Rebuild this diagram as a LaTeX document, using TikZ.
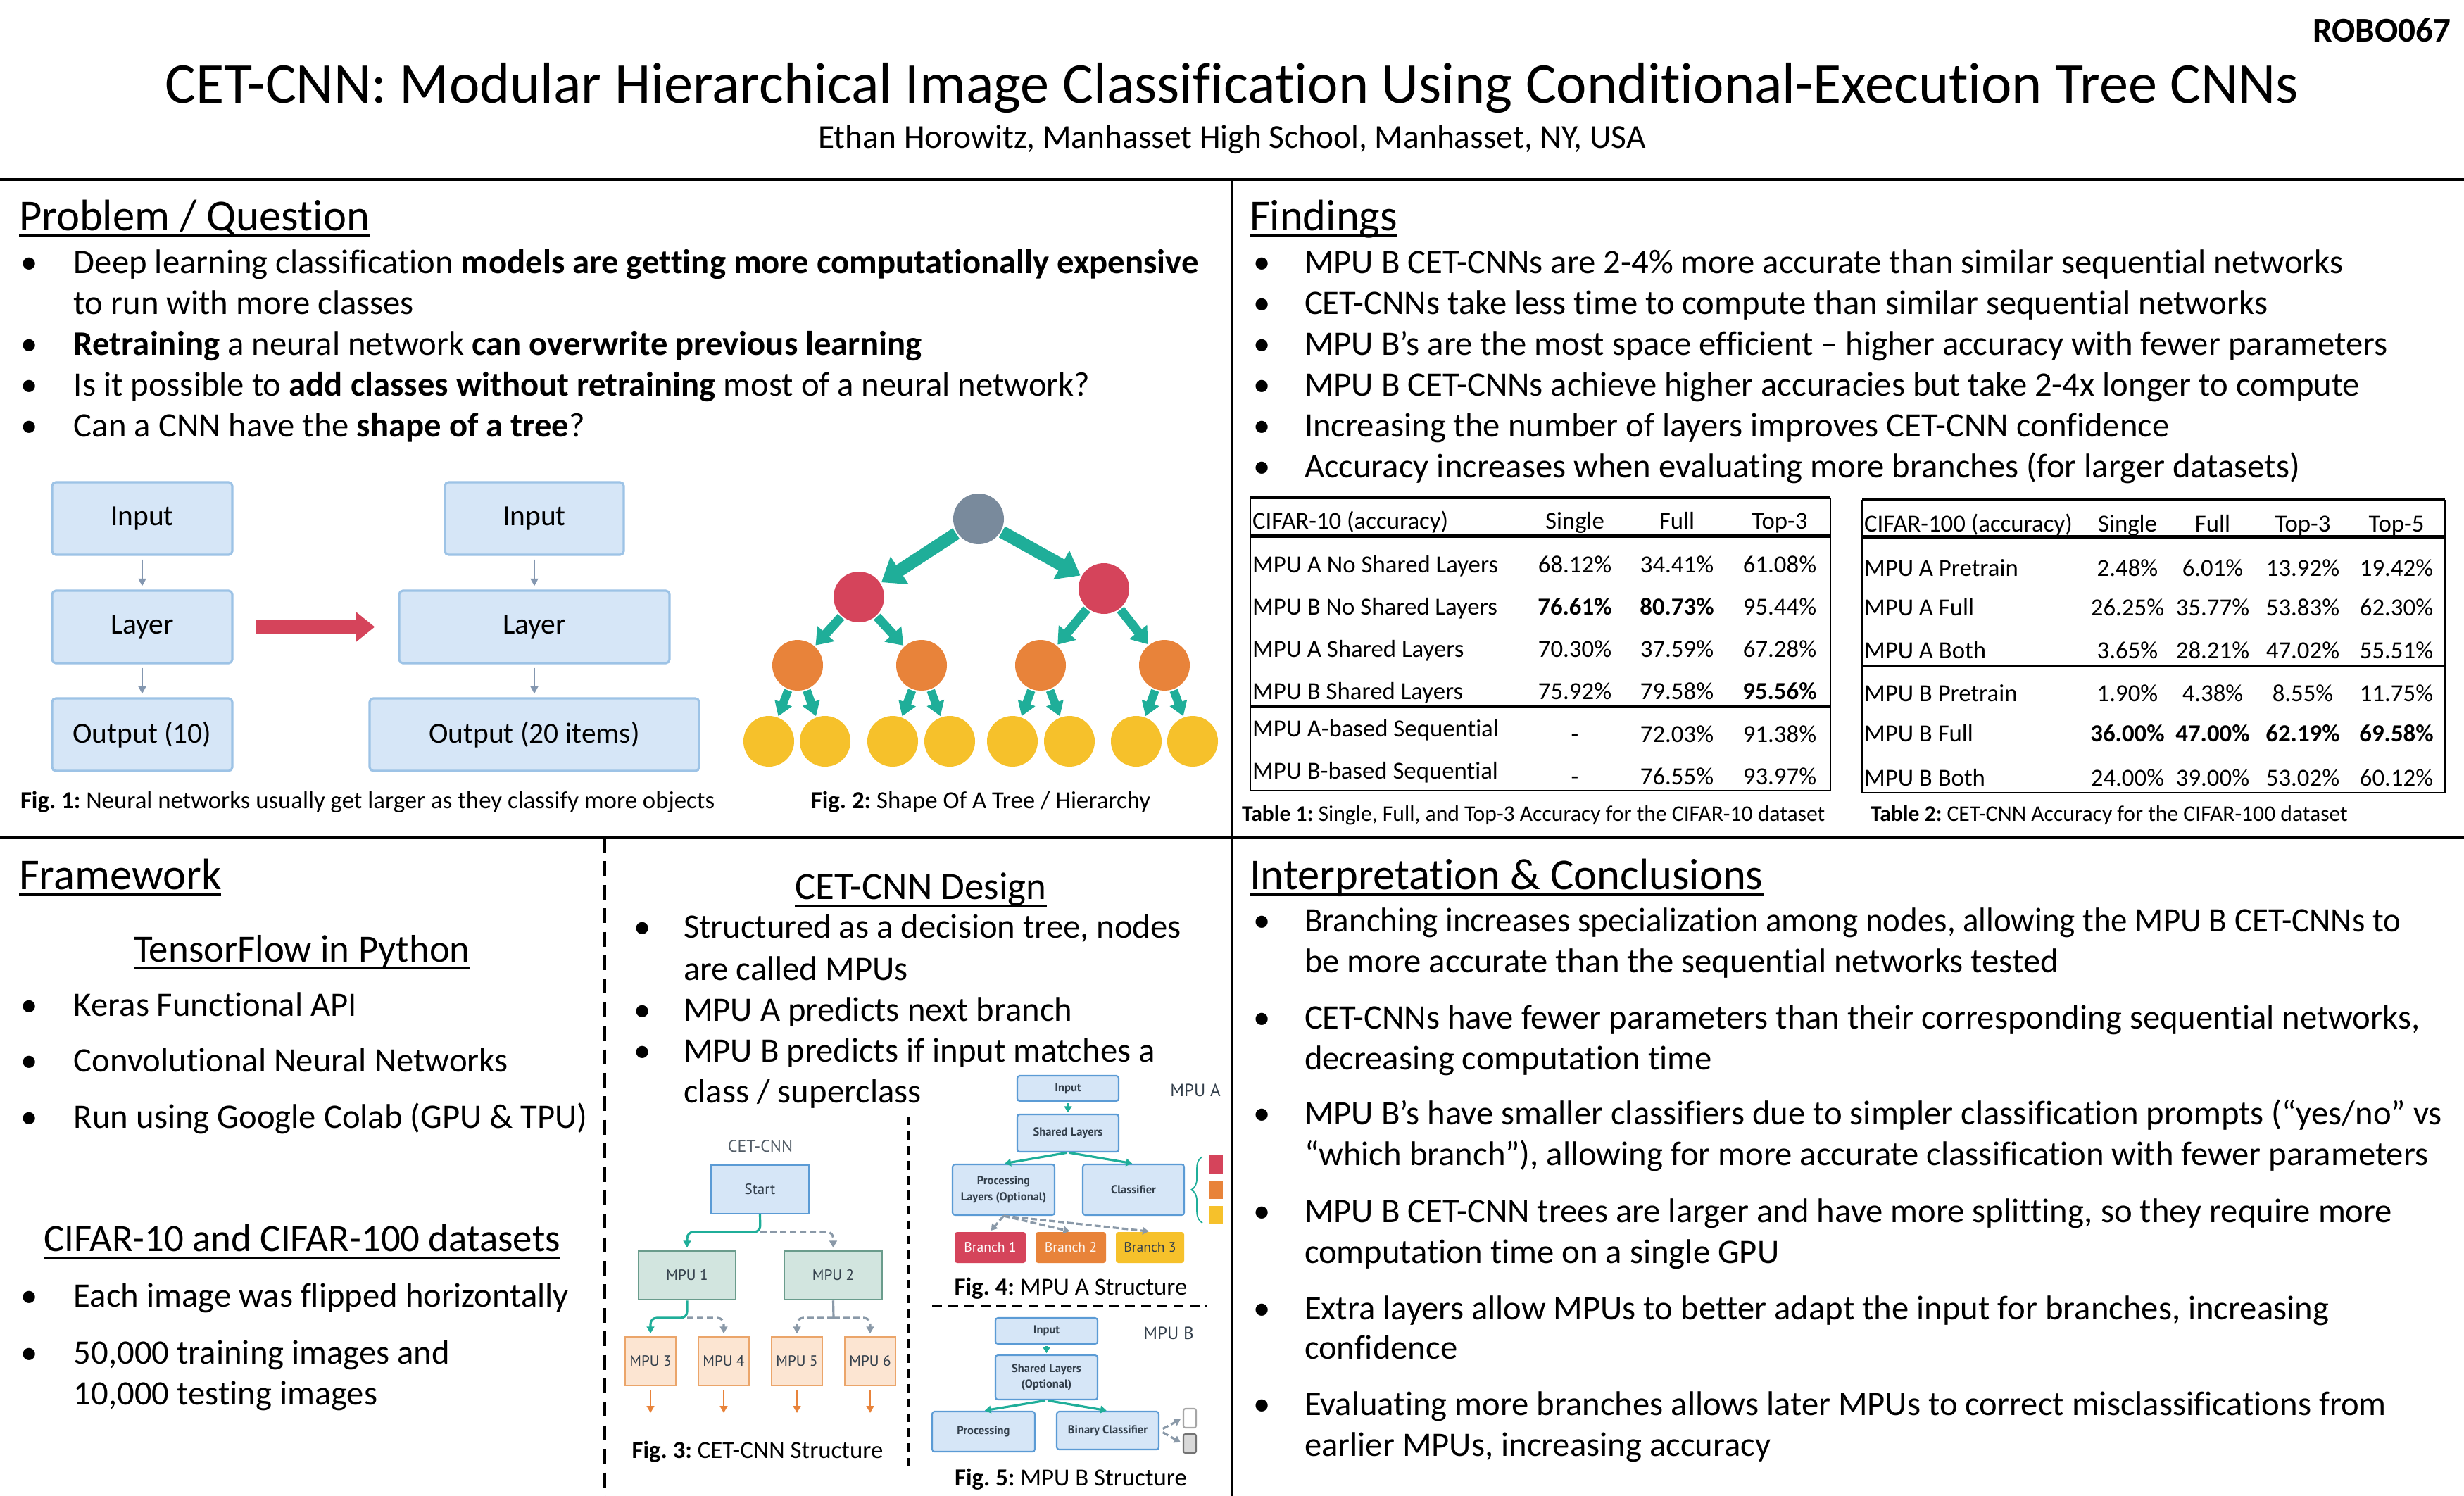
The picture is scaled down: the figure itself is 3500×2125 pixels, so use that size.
\documentclass[tikz,border=0pt]{standalone}
\usepackage{graphicx}
\usepackage{fontspec}
\setmainfont{Carlito}[Ligatures=NoCommon]
\newfontfamily\figfont{PT Sans}
\usetikzlibrary{arrows.meta,fit,decorations.pathreplacing}
\definecolor{boxfill}{HTML}{D6E6F7}
\definecolor{boxline}{HTML}{9DC3E6}
\definecolor{boxline2}{HTML}{5B9BD5}
\definecolor{tealc}{HTML}{1FAE99}
\definecolor{grayarrow}{HTML}{8497B0}
\definecolor{redc}{HTML}{D5445B}
\definecolor{orangec}{HTML}{E8833A}
\definecolor{yellowc}{HTML}{F6C12B}
\definecolor{rootgray}{HTML}{798A9C}
\definecolor{mpugreen}{HTML}{D2E5DF}
\definecolor{mpugreenline}{HTML}{6A9C8C}
\definecolor{mpupeach}{HTML}{FCE5D2}
\definecolor{mpupeachline}{HTML}{EBA56A}
\definecolor{dashgray}{HTML}{8A99A8}
\definecolor{figtext}{HTML}{333F4B}
\newcommand\fsz[2]{\fontsize{#1}{#2}\selectfont}
\frenchspacing
\begin{document}
\begin{tikzpicture}[x=0.1mm,y=-0.1mm,
  body/.style={inner sep=0pt,outer sep=0pt,anchor=base west,font=\fsz{13.85pt}{16.5pt}},
  head/.style={inner sep=0pt,outer sep=0pt,anchor=base west,font=\fsz{17.8pt}{21pt}},
  subh/.style={inner sep=0pt,outer sep=0pt,anchor=base,font=\fsz{15.6pt}{19pt}},
  ul/.style={line width=1.1pt},
  sepline/.style={line width=1.1pt},
  wh/.style 2 args={minimum width={#1*0.1mm},minimum height={#2*0.1mm}},
  tlab/.style={inner sep=0pt,outer sep=0pt,anchor=base west,font=\fsz{9.9pt}{12pt}},
  tnum/.style={inner sep=0pt,outer sep=0pt,anchor=base,font=\fsz{9.9pt}{12pt}},
  figcap/.style={inner sep=0pt,outer sep=0pt,anchor=base,font=\fsz{9.9pt}{12pt}},
  tabcap/.style={inner sep=0pt,outer sep=0pt,anchor=base west,font=\fsz{9pt}{11pt}},
  f1box/.style={draw=boxline,fill=boxfill,line width=0.9pt,rounded corners=1.5pt,inner sep=0pt,font=\fsz{11.8pt}{14pt}},
  f1arrow/.style={grayarrow,line width=0.8pt,-{Triangle[length=3pt,width=3pt]},shorten <=1.4pt,shorten >=1.4pt},
  bigred/.style={redc,line width=6.2pt,-{Triangle[length=7.5pt,width=11.5pt]},shorten <=9pt,shorten >=9.4pt},
  dot/.style={circle,inner sep=0pt,outer sep=0.6pt,minimum size=7.2mm},
  treeA/.style={tealc,line width=5.1pt,-{Triangle[length=8.8pt,width=12.8pt]}},
  treeB/.style={tealc,line width=3.7pt,-{Triangle[length=6.3pt,width=8.8pt]}},
  treeC/.style={tealc,line width=3.4pt,-{Triangle[length=5.7pt,width=7.1pt]}},
  f3blue/.style={draw=boxline2,fill=boxfill,line width=0.6pt,inner sep=0pt,font=\figfont\fsz{6pt}{7pt},text=figtext},
  f3green/.style={draw=mpugreenline,fill=mpugreen,line width=0.7pt,inner sep=0pt,font=\figfont\fsz{6pt}{7pt},text=figtext},
  f3peach/.style={draw=mpupeachline,fill=mpupeach,line width=0.7pt,inner sep=0pt,font=\figfont\fsz{6pt}{7pt},text=figtext},
  solidc/.style={tealc,line width=0.9pt,rounded corners=2.5pt,-{Triangle[length=2.8pt,width=3pt]},shorten >=1pt},
  dashc/.style={dashgray,line width=0.9pt,dash pattern=on 2.5pt off 1.5pt,rounded corners=2.5pt,-{Triangle[length=2.8pt,width=3pt]},shorten >=1pt},
  stemc/.style={dashgray,line width=0.9pt},
  oarrow/.style={orangec,line width=0.8pt,-{Triangle[length=2.8pt,width=3pt]},shorten <=1.6pt},
  f4box/.style={draw=boxline2,fill=boxfill,line width=0.6pt,rounded corners=1pt,inner sep=0pt,align=center,font=\figfont\bfseries\fsz{4.7pt}{6.4pt},text=figtext},
  brbox/.style={rounded corners=1pt,inner sep=0pt,font=\figfont\fsz{5.6pt}{7pt}},
  f4teal/.style={tealc,line width=0.9pt,-{Triangle[length=2.5pt,width=3pt]},shorten >=0.5pt,shorten <=0.5pt},
  f4dash/.style={dashgray,line width=0.9pt,dash pattern=on 2.5pt off 1.2pt,-{Triangle[length=2.5pt,width=3pt]},shorten >=0.5pt},
  mpulab/.style={inner sep=0pt,anchor=base,font=\figfont\fsz{7.1pt}{8pt},text=figtext},
]
\useasboundingbox (0,0) rectangle (3500,2125);
\fill[white] (0,0) rectangle (3500,2125);

% ---------- header ----------
\node[inner sep=0pt,anchor=base east,font=\fsz{14pt}{16pt}\bfseries] (code) at (3482,59) {ROBO067};
\node[inner sep=0pt,anchor=base,font=\fsz{23.4pt}{28pt}] (title) at (1750,146) {CET-CNN: Modular Hierarchical Image Classification Using Conditional-Execution Tree CNNs};
\node[inner sep=0pt,anchor=base,font=\fsz{13.5pt}{16pt}] (author) at (1750,210) {Ethan Horowitz, Manhasset High School, Manhasset, NY, USA};

\draw[sepline] (0,255) -- (3500,255);
\draw[sepline] (1750,255) -- (1750,2125);
\draw[sepline] (0,1190) -- (3500,1190);
\draw[line width=0.9pt,dash pattern=on 6pt off 3.5pt] (859,1190) -- (859,2125);

% ---------- Problem / Question ----------
\node[head] (hpq) at (27,327) {Problem / Question};
\draw[ul] ([yshift=-2.3pt]hpq.base west) -- ([yshift=-2.3pt]hpq.base east);
\node[body] (pb1) at (30,388) {•};
\node[body] (pt1) at (105,388) {Deep learning classification \textbf{models are getting more computationally expensive}};
\node[body] (pt1b) at (105,446) {to run with more classes};
\node[body] (pb2) at (30,504) {•};
\node[body] (pt2) at (105,504) {\textbf{Retraining} a neural network \textbf{can overwrite previous learning}};
\node[body] (pb3) at (30,562) {•};
\node[body] (pt3) at (105,562) {Is it possible to \textbf{add classes without retraining} most of a neural network?};
\node[body] (pb4) at (30,620) {•};
\node[body] (pt4) at (105,620) {Can a CNN have the \textbf{shape of a tree}?};

% ---------- Fig 1 ----------
\node[f1box,wh={256}{103}] (ain) at (202,736.5) {Input};
\node[f1box,wh={256}{103}] (alay) at (202,890.5) {Layer};
\node[f1box,wh={256}{103}] (aout) at (202,1043.5) {Output (10)};
\node[f1box,wh={254}{103}] (bin) at (759,736.5) {Input};
\node[f1box,wh={384}{103}] (blay) at (759,890.5) {Layer};
\node[f1box,wh={468}{103}] (bout) at (759,1043.5) {Output (20 items)};
\draw[f1arrow] (ain) -- (alay);
\draw[f1arrow] (alay) -- (aout);
\draw[f1arrow] (bin) -- (blay);
\draw[f1arrow] (blay) -- (bout);
\draw[bigred] (alay.east) -- (blay.west);
\node[figcap,anchor=base west] (cap1) at (29,1148) {\textbf{Fig. 1:} Neural networks usually get larger as they classify more objects};

% ---------- Fig 2 ----------
\node[dot,fill=rootgray] (t0) at (1390,737) {};
\node[dot,fill=redc] (t1) at (1220,848) {};
\node[dot,fill=redc] (t2) at (1568,836) {};
\node[dot,fill=orangec] (t3) at (1133,945) {};
\node[dot,fill=orangec] (t4) at (1309,945) {};
\node[dot,fill=orangec] (t5) at (1478,945) {};
\node[dot,fill=orangec] (t6) at (1654,945) {};
\node[dot,fill=yellowc] (y1) at (1092,1053) {};
\node[dot,fill=yellowc] (y2) at (1172,1053) {};
\node[dot,fill=yellowc] (y3) at (1268,1053) {};
\node[dot,fill=yellowc] (y4) at (1349,1053) {};
\node[dot,fill=yellowc] (y5) at (1438,1053) {};
\node[dot,fill=yellowc] (y6) at (1519,1053) {};
\node[dot,fill=yellowc] (y7) at (1614,1053) {};
\node[dot,fill=yellowc] (y8) at (1694,1053) {};
\draw[treeA] (t0) -- (t1);
\draw[treeA] (t0) -- (t2);
\draw[treeB] (t1) -- (t3);
\draw[treeB] (t1) -- (t4);
\draw[treeB] (t2) -- (t5);
\draw[treeB] (t2) -- (t6);
\draw[treeC] (t3) -- (y1);
\draw[treeC] (t3) -- (y2);
\draw[treeC] (t4) -- (y3);
\draw[treeC] (t4) -- (y4);
\draw[treeC] (t5) -- (y5);
\draw[treeC] (t5) -- (y6);
\draw[treeC] (t6) -- (y7);
\draw[treeC] (t6) -- (y8);
\node[figcap] (cap2) at (1393,1148) {\textbf{Fig. 2:} Shape Of A Tree / Hierarchy};

% ---------- Findings ----------
\node[head] (hfi) at (1775,327) {Findings};
\draw[ul] ([yshift=-2.3pt]hfi.base west) -- ([yshift=-2.3pt]hfi.base east);
\node[body] (fb1) at (1780,388) {•};
\node[body] (ft1) at (1853,388) {MPU B CET-CNNs are 2-4\% more accurate than similar sequential networks};
\node[body] (fb2) at (1780,446) {•};
\node[body] (ft2) at (1853,446) {CET-CNNs take less time to compute than similar sequential networks};
\node[body] (fb3) at (1780,504) {•};
\node[body] (ft3) at (1853,504) {MPU B’s are the most space efficient – higher accuracy with fewer parameters};
\node[body] (fb4) at (1780,562) {•};
\node[body] (ft4) at (1853,562) {MPU B CET-CNNs achieve higher accuracies but take 2-4x longer to compute};
\node[body] (fb5) at (1780,620) {•};
\node[body] (ft5) at (1853,620) {Increasing the number of layers improves CET-CNN confidence};
\node[body] (fb6) at (1780,678) {•};
\node[body] (ft6) at (1853,678) {Accuracy increases when evaluating more branches (for larger datasets)};

% ---------- Table 1 ----------
\draw[line width=1.3pt] (1776,707) -- (2600,707);
\draw[line width=0.7pt] (1776,707) -- (1776,1123) -- (2600,1123) -- (2600,707);
\draw[line width=1.5pt] (1776,761) -- (2600,761);
\draw[line width=1.1pt] (1776,1003) -- (2600,1003);
\node[tlab] (a00) at (1779,751) {CIFAR-10 (accuracy)};
\node[tnum] (a01) at (2237,751) {Single};
\node[tnum] (a02) at (2382,751) {Full};
\node[tnum] (a03) at (2528,751) {Top-3};
\node[tlab] (a10) at (1779,813) {MPU A No Shared Layers};
\node[tnum] (a11) at (2237,813) {68.12\%};
\node[tnum] (a12) at (2382,813) {34.41\%};
\node[tnum] (a13) at (2528,813) {61.08\%};
\node[tlab] (a20) at (1779,873) {MPU B No Shared Layers};
\node[tnum] (a21) at (2237,873) {\textbf{76.61\%}};
\node[tnum] (a22) at (2382,873) {\textbf{80.73\%}};
\node[tnum] (a23) at (2528,873) {95.44\%};
\node[tlab] (a30) at (1779,933) {MPU A Shared Layers};
\node[tnum] (a31) at (2237,933) {70.30\%};
\node[tnum] (a32) at (2382,933) {37.59\%};
\node[tnum] (a33) at (2528,933) {67.28\%};
\node[tlab] (a40) at (1779,993) {MPU B Shared Layers};
\node[tnum] (a41) at (2237,993) {75.92\%};
\node[tnum] (a42) at (2382,993) {79.58\%};
\node[tnum] (a43) at (2528,993) {\textbf{95.56\%}};
\node[tlab] (a50) at (1779,1046) {MPU A-based Sequential};
\node[tnum] (a51) at (2237,1054) {-};
\node[tnum] (a52) at (2382,1054) {72.03\%};
\node[tnum] (a53) at (2528,1054) {91.38\%};
\node[tlab] (a60) at (1779,1106) {MPU B-based Sequential};
\node[tnum] (a61) at (2237,1114) {-};
\node[tnum] (a62) at (2382,1114) {76.55\%};
\node[tnum] (a63) at (2528,1114) {93.97\%};
\node[tabcap] (cap3) at (1764,1166) {\textbf{Table 1:} Single, Full, and Top-3 Accuracy for the CIFAR-10 dataset};

% ---------- Table 2 ----------
\draw[line width=1.3pt] (2645,710) -- (3473,710);
\draw[line width=0.7pt] (2645,710) -- (2645,1126) -- (3473,1126) -- (3473,710);
\draw[line width=1.5pt] (2645,763) -- (3473,763);
\draw[line width=1.1pt] (2645,946) -- (3473,946);
\node[tlab] (b00) at (2648,755) {CIFAR-100 (accuracy)};
\node[tnum] (b01) at (3022,755) {Single};
\node[tnum] (b02) at (3143,755) {Full};
\node[tnum] (b03) at (3271,755) {Top-3};
\node[tnum] (b04) at (3404,755) {Top-5};
\node[tlab] (b10) at (2648,818) {MPU A Pretrain};
\node[tnum] (b11) at (3022,818) {2.48\%};
\node[tnum] (b12) at (3143,818) {6.01\%};
\node[tnum] (b13) at (3271,818) {13.92\%};
\node[tnum] (b14) at (3404,818) {19.42\%};
\node[tlab] (b20) at (2648,874) {MPU A Full};
\node[tnum] (b21) at (3022,874) {26.25\%};
\node[tnum] (b22) at (3143,874) {35.77\%};
\node[tnum] (b23) at (3271,874) {53.83\%};
\node[tnum] (b24) at (3404,874) {62.30\%};
\node[tlab] (b30) at (2648,935) {MPU A Both};
\node[tnum] (b31) at (3022,935) {3.65\%};
\node[tnum] (b32) at (3143,935) {28.21\%};
\node[tnum] (b33) at (3271,935) {47.02\%};
\node[tnum] (b34) at (3404,935) {55.51\%};
\node[tlab] (b40) at (2648,996) {MPU B Pretrain};
\node[tnum] (b41) at (3022,996) {1.90\%};
\node[tnum] (b42) at (3143,996) {4.38\%};
\node[tnum] (b43) at (3271,996) {8.55\%};
\node[tnum] (b44) at (3404,996) {11.75\%};
\node[tlab] (b50) at (2648,1053) {MPU B Full};
\node[tnum] (b51) at (3022,1053) {\textbf{36.00\%}};
\node[tnum] (b52) at (3143,1053) {\textbf{47.00\%}};
\node[tnum] (b53) at (3271,1053) {\textbf{62.19\%}};
\node[tnum] (b54) at (3404,1053) {\textbf{69.58\%}};
\node[tlab] (b60) at (2648,1116) {MPU B Both};
\node[tnum] (b61) at (3022,1116) {24.00\%};
\node[tnum] (b62) at (3143,1116) {39.00\%};
\node[tnum] (b63) at (3271,1116) {53.02\%};
\node[tnum] (b64) at (3404,1116) {60.12\%};
\node[tabcap] (cap4) at (2657,1166) {\textbf{Table 2:} CET-CNN Accuracy for the CIFAR-100 dataset};

% ---------- Framework ----------
\node[head] (hfw) at (27,1263) {Framework};
\draw[ul] ([yshift=-2.3pt]hfw.base west) -- ([yshift=-2.3pt]hfw.base east);
\node[subh] (htf) at (429,1366) {TensorFlow in Python};
\draw[line width=0.9pt] ([yshift=-2.6pt]htf.base west) -- ([yshift=-2.6pt]htf.base east);
\node[body] (wb1) at (30,1443) {•};
\node[body] (wt1) at (105,1443) {Keras Functional API};
\node[body] (wb2) at (30,1522) {•};
\node[body] (wt2) at (105,1522) {Convolutional Neural Networks};
\node[body] (wb3) at (30,1602) {•};
\node[body] (wt3) at (105,1602) {Run using Google Colab (GPU \& TPU)};
\node[subh] (hci) at (429,1777) {CIFAR-10 and CIFAR-100 datasets};
\draw[line width=0.9pt] ([yshift=-2.6pt]hci.base west) -- ([yshift=-2.6pt]hci.base east);
\node[body] (wb4) at (30,1856) {•};
\node[body] (wt4) at (105,1856) {Each image was flipped horizontally};
\node[body] (wb5) at (30,1937) {•};
\node[body] (wt5) at (105,1937) {50,000 training images and};
\node[body] (wt6) at (105,1995) {10,000 testing images};

% ---------- CET-CNN Design ----------
\node[subh] (hds) at (1308,1277) {CET-CNN Design};
\draw[line width=0.9pt] ([yshift=-2.6pt]hds.base west) -- ([yshift=-2.6pt]hds.base east);
\node[body] (db1) at (900,1332) {•};
\node[body] (dt1) at (971,1332) {Structured as a decision tree, nodes};
\node[body] (dt1b) at (971,1392) {are called MPUs};
\node[body] (db2) at (900,1450) {•};
\node[body] (dt2) at (971,1450) {MPU A predicts next branch};
\node[body] (db3) at (900,1508) {•};
\node[body] (dt3) at (971,1508) {MPU B predicts if input matches a};
\node[body] (dt3b) at (971,1566) {class / superclass};

\draw[line width=0.9pt,dash pattern=on 3.5pt off 2.5pt] (1290,1586) -- (1290,2088);
\draw[line width=0.9pt,dash pattern=on 4pt off 2.5pt] (1324,1855) -- (1714,1855);

% ---------- Fig 3 ----------
\node[inner sep=0pt,anchor=base,font=\figfont\fsz{6.8pt}{8pt},text=figtext!85] (cetl) at (1080,1636) {CET-CNN};
\node[f3blue,wh={139}{69}] (st) at (1079.5,1689.5) {Start};
\node[f3green,wh={138}{69}] (m1) at (976,1811.5) {MPU 1};
\node[f3green,wh={139}{69}] (m2) at (1183.5,1811.5) {MPU 2};
\node[f3peach,wh={72}{69}] (m3) at (924,1933.5) {MPU 3};
\node[f3peach,wh={72}{69}] (m4) at (1028,1933.5) {MPU 4};
\node[f3peach,wh={72}{69}] (m5) at (1132,1933.5) {MPU 5};
\node[f3peach,wh={72}{69}] (m6) at (1236,1933.5) {MPU 6};
\coordinate (j0) at (1080,1750);
\coordinate (j1) at (976,1872);
\coordinate (j2) at (1184,1872);
\draw[solidc] (st.south) -- (j0) -| (m1.north);
\draw[dashc] (j0) -| (m2.north);
\draw[solidc] (m1.south) -- (j1) -| (m3.north);
\draw[dashc] (j1) -| (m4.north);
\draw[stemc] (m2.south) -- (j2);
\draw[dashc] (j2) -| (m5.north);
\draw[dashc] (j2) -| (m6.north);
\coordinate (e3) at (924,2007);
\coordinate (e4) at (1028,2007);
\coordinate (e5) at (1132,2007);
\coordinate (e6) at (1236,2007);
\draw[oarrow] (m3.south) -- (e3);
\draw[oarrow] (m4.south) -- (e4);
\draw[oarrow] (m5.south) -- (e5);
\draw[oarrow] (m6.south) -- (e6);
\node[figcap] (cap5) at (1076,2071) {\textbf{Fig. 3:} CET-CNN Structure};

% ---------- Fig 4 ----------
\node[mpulab] (mpua) at (1698,1557) {MPU A};
\node[f4box,wh={144}{36}] (in4) at (1517,1546) {Input};
\node[f4box,wh={144}{53}] (sh4) at (1517,1609.5) {Shared Layers};
\node[f4box,wh={145}{72}] (pr4) at (1425.5,1690) {Processing\\Layers (Optional)};
\node[f4box,wh={144}{72}] (cl4) at (1610,1690) {Classifier};
\node[brbox,fill=redc,text=white,wh={101}{44}] (br1) at (1406.5,1772) {Branch 1};
\node[brbox,fill=orangec,text=white!92!orangec,wh={100}{44}] (br2) at (1521,1772) {Branch 2};
\node[brbox,fill=yellowc,text=figtext,wh={97}{44}] (br3) at (1633.5,1772) {Branch 3};
\node[inner sep=0pt,fill=redc,fit={(1718,1641)(1737,1667)}] (sq1) {};
\node[inner sep=0pt,fill=orangec,fit={(1718,1677)(1737,1703)}] (sq2) {};
\node[inner sep=0pt,fill=yellowc,fit={(1718,1713)(1737,1739)}] (sq3) {};
\draw[tealc,line width=0.5pt,decorate,decoration={brace,amplitude=4.5pt}] (1708,1737) -- (1708,1643);
\draw[f4teal] (in4) -- (sh4);
\draw[f4teal] (sh4.south) -- (pr4.north);
\draw[f4teal] (sh4.south) -- (cl4.north);
\draw[f4dash] (pr4.south) -- (br1.north);
\draw[f4dash] (pr4.south) -- (br2.north);
\draw[f4dash] (pr4.south) -- (br3.north);
\node[figcap] (cap6) at (1521,1839) {\textbf{Fig. 4:} MPU A Structure};

% ---------- Fig 5 ----------
\node[mpulab] (mpub) at (1660,1902) {MPU B};
\node[f4box,wh={145}{37}] (in5) at (1486.5,1890.5) {Input};
\node[f4box,wh={145}{63}] (sh5) at (1486.5,1956.5) {Shared Layers\\(Optional)};
\node[f4box,wh={146}{57}] (pr5) at (1397,2033.5) {Processing};
\node[f4box,wh={145}{54}] (bc5) at (1573.5,2032) {Binary Classifier};
\node[draw=black!35,fill=white,line width=0.6pt,rounded corners=0.8pt,inner sep=0pt,fit={(1681,2001)(1699,2028)}] (wb) {};
\node[draw=black!55,fill=black!15,line width=0.6pt,rounded corners=0.8pt,inner sep=0pt,fit={(1681,2037)(1699,2064)}] (gb) {};
\draw[f4teal] (in5) -- (sh5);
\draw[f4teal] (sh5.south) -- (pr5.north);
\draw[f4teal] (sh5.south) -- (bc5.north);
\draw[f4dash,shorten <=1.5pt,shorten >=1pt] (bc5.east) -- (wb.west);
\draw[f4dash,shorten <=1.5pt,shorten >=1pt] (bc5.east) -- (gb.west);
\node[figcap] (cap7) at (1521,2110) {\textbf{Fig. 5:} MPU B Structure};

% ---------- Interpretation & Conclusions ----------
\node[head] (hic) at (1775,1263) {Interpretation \& Conclusions};
\draw[ul] ([yshift=-2.3pt]hic.base west) -- ([yshift=-2.3pt]hic.base east);
\node[body] (ib1) at (1780,1323) {•};
\node[body] (it1) at (1853,1323) {\scalebox{0.964}[1]{Branching increases specialization among nodes, allowing the MPU B CET-CNNs to}};
\node[body] (it1b) at (1853,1381) {be more accurate than the sequential networks tested};
\node[body] (ib2) at (1780,1461) {•};
\node[body] (it2) at (1853,1461) {CET-CNNs have fewer parameters than their corresponding sequential networks,};
\node[body] (it2b) at (1853,1519) {decreasing computation time};
\node[body] (ib3) at (1780,1597) {•};
\node[body] (it3) at (1853,1597) {MPU B’s have smaller classifiers due to simpler classification prompts (“yes/no” vs};
\node[body] (it3b) at (1853,1655) {“which branch”), allowing for more accurate classification with fewer parameters};
\node[body] (ib4) at (1780,1736) {•};
\node[body] (it4) at (1853,1736) {MPU B CET-CNN trees are larger and have more splitting, so they require more};
\node[body] (it4b) at (1853,1794) {computation time on a single GPU};
\node[body] (ib5) at (1780,1874) {•};
\node[body] (it5) at (1853,1874) {Extra layers allow MPUs to better adapt the input for branches, increasing};
\node[body] (it5b) at (1853,1930) {confidence};
\node[body] (ib6) at (1780,2010) {•};
\node[body] (it6) at (1853,2010) {Evaluating more branches allows later MPUs to correct misclassifications from};
\node[body] (it6b) at (1853,2068) {earlier MPUs, increasing accuracy};
\end{tikzpicture}
\end{document}
